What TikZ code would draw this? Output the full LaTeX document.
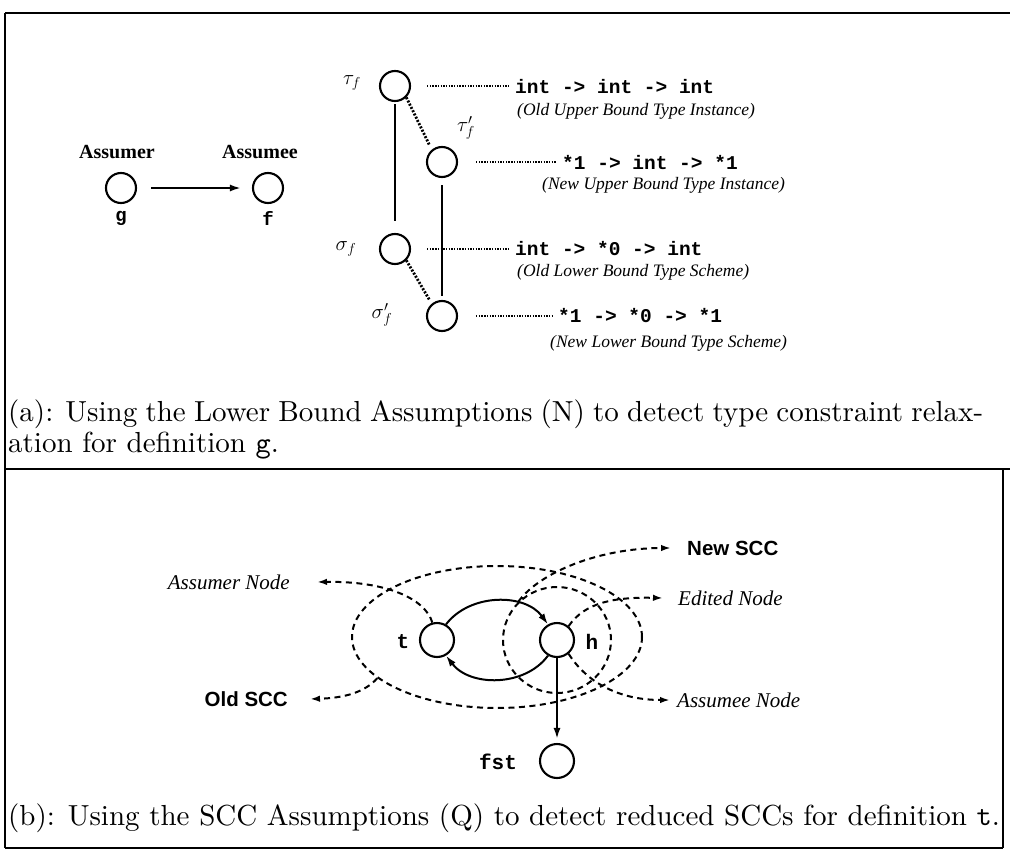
\documentclass[tikz,border=0pt]{standalone}
\usepackage{fontspec}
\usepackage{graphicx}
\newfontfamily\tnr{Liberation Serif}
\newfontfamily\hlv{Liberation Sans}
\newfontfamily\cour{Liberation Mono}
\usetikzlibrary{arrows.meta,shapes.geometric}

% caption lines: 10pt design size, enlarged
\newcommand{\capfull}[2]{\scalebox{2.9}{\fontsize{10}{12}\selectfont\hbox to #1{#2}}}
\newcommand{\capnat}[1]{\scalebox{2.9}{\fontsize{10}{12}\selectfont #1}}

\tikzset{
  frame/.style={line width=2pt},
  vtx/.style={circle, draw, line width=2.1pt, minimum size=30pt, inner sep=0pt},
  bvtx/.style={circle, draw, line width=2.1pt, minimum size=34pt, inner sep=0pt},
  headtxt/.style={font={\tnr\bfseries\fontsize{20}{24}\selectfont}, inner sep=0pt},
  ttlab/.style={font={\cour\bfseries\fontsize{19}{22}\selectfont}, inner sep=0pt},
  ttlabb/.style={font={\cour\bfseries\fontsize{21}{24}\selectfont}, inner sep=0pt},
  greek/.style={font={\fontsize{20}{24}\selectfont}, inner sep=0pt},
  codetxt/.style={font={\cour\bfseries\fontsize{19.5}{22}\selectfont}, anchor=west, inner sep=0pt},
  notetxt/.style={font={\tnr\itshape\fontsize{17.5}{20}\selectfont}, anchor=west, inner sep=0pt},
  itb/.style={font={\tnr\itshape\fontsize{21}{24}\selectfont}, inner sep=0pt},
  hb/.style={font={\hlv\bfseries\fontsize{20.5}{24}\selectfont}, inner sep=0pt},
  captxt/.style={anchor=west, inner sep=0pt},
  solidarrow/.style={line width=2pt, -{Latex[length=11pt,width=7pt]}},
  rule/.style={line width=2.4pt},
  dotline/.style={line width=1.2pt, dash pattern=on 1.4pt off 1.3pt},
  dotthick/.style={line width=2.8pt, dash pattern=on 2pt off 1.6pt},
  sccline/.style={line width=2pt, dash pattern=on 6pt off 4.5pt},
  ptr/.style={line width=2pt, dash pattern=on 6pt off 4.5pt, -{Latex[length=10pt,width=6.5pt]}},
}

\begin{document}
\begin{tikzpicture}[x=1pt,y=-1pt]
\useasboundingbox (0,0) rectangle (1010,862);

% ---------- frame ----------
\draw[frame] (5,13) -- (1010,13);
\draw[frame] (5,13) -- (5,848);
\draw[frame] (5,469) -- (1010,469);
\draw[frame] (5,848) -- (1003,848);
\draw[frame] (1003,469) -- (1003,848);

% ---------- panel (a): assumer / assumee ----------
\node[vtx] (g) at (121,188) {};
\node[vtx] (f) at (268,188) {};
\node[headtxt] (hdassumer) at (117,152) {Assumer};
\node[headtxt] (hdassumee) at (260,152) {Assumee};
\node[ttlab] (glab) at (121,218) {g};
\node[ttlab] (flab) at (268,218) {f};
\draw[solidarrow, shorten <=14pt, shorten >=11pt] (g) -- (f);

% ---------- panel (a): type lattice ----------
\node[vtx] (tau)  at (395,86)  {};
\node[vtx] (taup) at (442,162) {};
\node[vtx] (sig)  at (395,249) {};
\node[vtx] (sigp) at (442,316) {};

\node[greek] (taulab)  at (352,83)  {$\tau_f$};
\node[greek] (tauplab) at (466,128) {$\tau_f^{\prime}$};
\node[greek] (siglab)  at (346,249) {$\sigma_f$};
\node[greek] (sigplab) at (382,315) {$\sigma_f^{\prime}$};

\draw[rule, shorten <=2pt, shorten >=12pt] (tau) -- (sig);
\draw[rule, shorten <=7pt, shorten >=4pt] (taup) -- (sigp);
\draw[dotthick, shorten >=5pt] (tau.-45) -- (taup.130);
\draw[dotthick, shorten >=5pt] (sig.-45) -- (sigp.130);

\node[codetxt] (c1) at (515,86)  {int -> int -> int};
\node[notetxt] (n1) at (517,111) {(Old Upper Bound Type Instance)};
\node[codetxt] (c2) at (562,162) {*1 -> int -> *1};
\node[notetxt] (n2) at (542,185) {(New Upper Bound Type Instance)};
\node[codetxt] (c3) at (515,249) {int -> *0 -> int};
\node[notetxt] (n3) at (517,272) {(Old Lower Bound Type Scheme)};
\node[codetxt] (c4) at (558,316) {*1 -> *0 -> *1};
\node[notetxt] (n4) at (550,343) {(New Lower Bound Type Scheme)};

\draw[dotline, shorten <=16pt, shorten >=6pt] (tau.east)  -- (c1.west);
\draw[dotline, shorten <=18pt, shorten >=6pt] (taup.east) -- (c2.west);
\draw[dotline, shorten <=16pt, shorten >=6pt] (sig.east)  -- (c3.west);
\draw[dotline, shorten <=18pt, shorten >=6pt] (sigp.east) -- (c4.west);

% ---------- caption (a) ----------
\node[captxt] (capa1) at (8,414) {\capfull{336.2pt}{(a): Using the Lower Bound Assumptions (N) to detect type constraint relax-}};
\node[captxt] (capa2) at (8,446) {\capnat{ation for definition \texttt{g}.}};

% ---------- panel (b): SCC picture ----------
\node[draw, sccline, ellipse, minimum width=290pt, minimum height=142pt, inner sep=0pt] (oldscc) at (497,637) {};
\node[draw, sccline, ellipse, minimum width=108pt, minimum height=106pt, inner sep=0pt] (newscc) at (557,640) {};

\node[bvtx, fill=white] (t)   at (437,640) {};
\node[bvtx, fill=white] (h)   at (557,640) {};
\node[bvtx] (fst) at (557,761) {};
\node[ttlabb] (tlab)   at (403,642) {t};
\node[ttlabb] (hlab)   at (592,642) {h};
\node[ttlabb] (fstlab) at (498,762) {fst};

\draw[solidarrow] (t.60) .. controls (470,593) and (525,593) .. (h.120);
\draw[solidarrow] (h.240) .. controls (525,687) and (470,687) .. (t.300);
\draw[solidarrow, shorten >=4pt] (h.south) -- (fst.north);

\node[itb, anchor=east] (lassumer) at (290,582) {Assumer Node};
\node[hb,  anchor=west] (lnewscc)  at (687,548) {New SCC};
\node[itb, anchor=west] (ledited)  at (678,598) {Edited Node};
\node[hb,  anchor=east] (loldscc)  at (288,699) {Old SCC};
\node[itb, anchor=west] (lassumee) at (677,700) {Assumee Node};

\draw[ptr] (t.105) .. controls (425,598) and (385,581) .. ([xshift=27pt]lassumer.east);
\draw[ptr] (h.50) .. controls (585,602) and (615,597) .. ([xshift=-15pt]ledited.west);
\draw[ptr] (h.-50) .. controls (590,687) and (625,700) .. ([xshift=-7pt]lassumee.west);
\draw[ptr] (oldscc.199) .. controls (365,692) and (345,698) .. ([xshift=22pt]loldscc.east);
\draw[ptr] (newscc.135) .. controls (540,572) and (600,548) .. ([xshift=-16pt]lnewscc.west);

% ---------- caption (b) ----------
\node[captxt] (capb) at (8,818) {\capnat{(b): Using the SCC Assumptions (Q) to detect reduced SCCs for definition \texttt{t}.}};
\end{tikzpicture}
\end{document}
